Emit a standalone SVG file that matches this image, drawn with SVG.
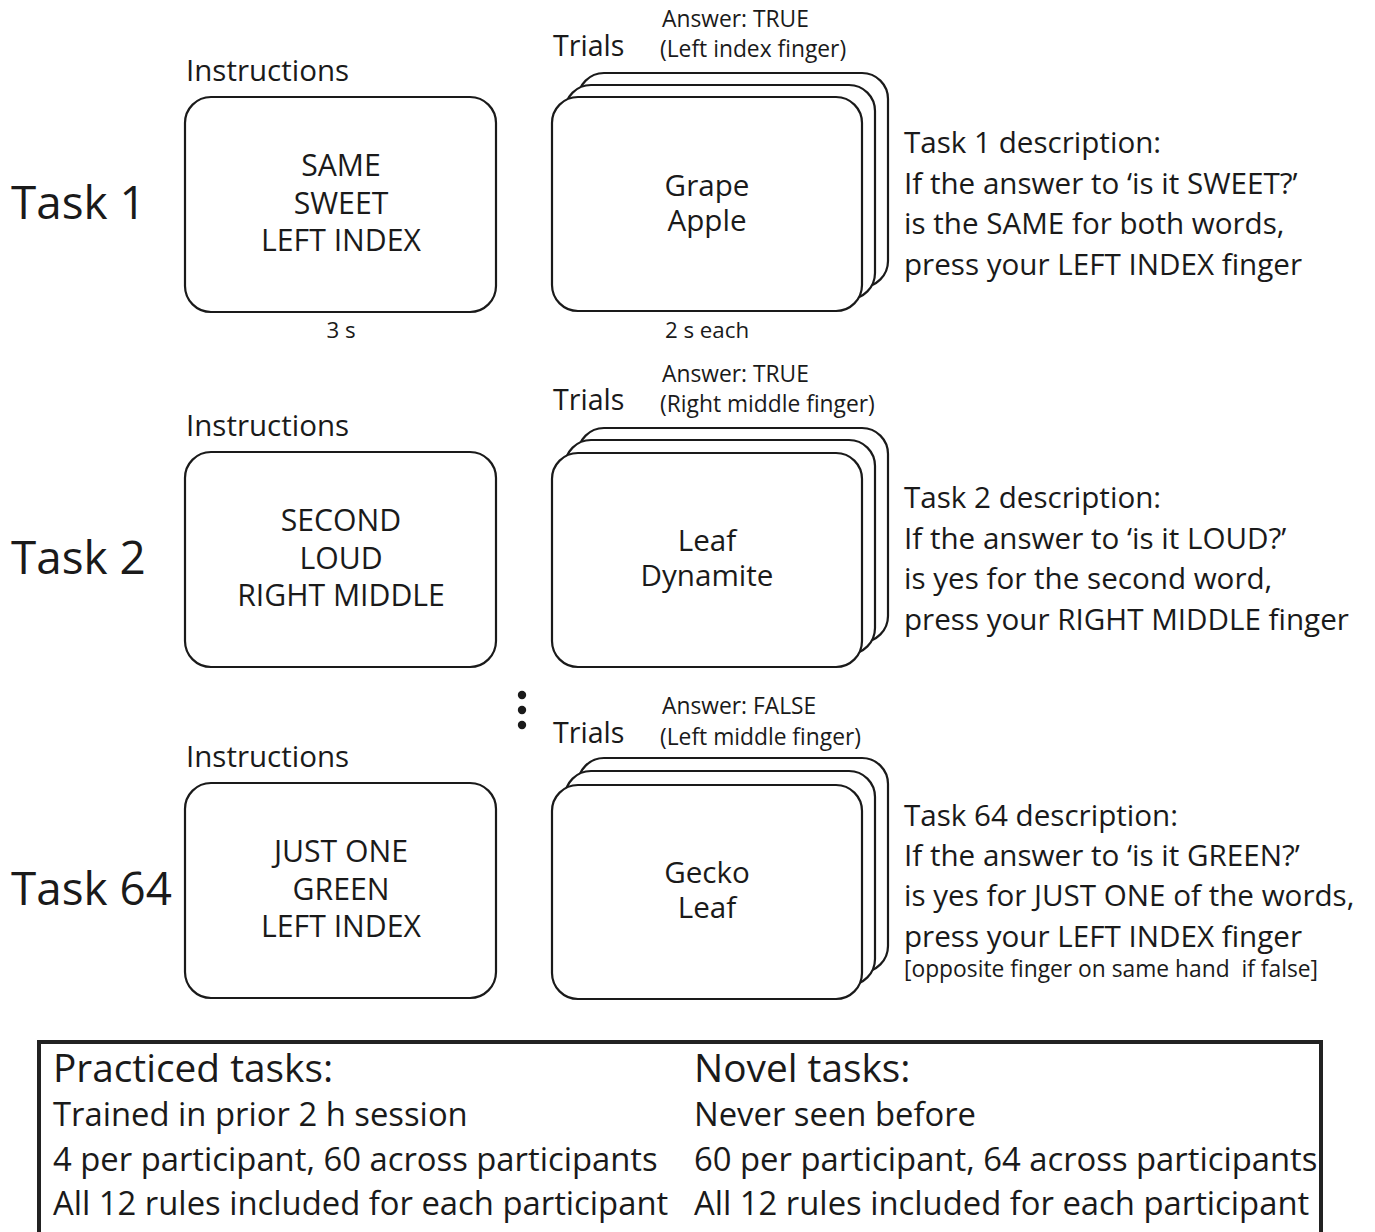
<svg xmlns="http://www.w3.org/2000/svg" width="1375" height="1232" viewBox="0 0 1375 1232">
<style>
text{font-family:"Open Sans","Noto Sans","Liberation Sans",sans-serif;fill:#1a1a1a}
.task{font-size:45.8px}
.lbl{font-size:29.5px}
.trl{font-size:28.6px}
.ans{font-size:22.8px}
.desc{font-size:29.6px}
.box{font-size:30.2px;text-anchor:middle}
.word{font-size:29.6px;text-anchor:middle}
.dur{font-size:22.3px;text-anchor:middle}
.note{font-size:22.8px}
.card{fill:#fff;stroke:#1a1a1a;stroke-width:2.2}
.h{font-size:38.8px}
.b{font-size:32.8px}
</style>
<rect width="1375" height="1232" fill="#fff"/>
<defs>
<rect id="c" width="310" height="214" rx="26" ry="26" class="card"/>
</defs>

<g id="task1">
<text class="task" x="11" y="219">Task 1</text>
<g id="instr1">
<text class="lbl" x="186" y="81">Instructions</text>
<rect x="185" y="97" width="311" height="215" rx="26" class="card"/>
<text class="box" x="341" y="176">SAME</text>
<text class="box" x="341" y="214">SWEET</text>
<text class="box" x="341" y="251">LEFT INDEX</text>
<text class="dur" x="341" y="338">3 s</text>
</g>
<g id="trials1">
<text class="trl" x="553" y="56">Trials</text>
<text class="ans" x="662" y="27">Answer: TRUE</text>
<text class="ans" x="660" y="57">(Left index finger)</text>
<use href="#c" x="578" y="73"/>
<use href="#c" x="565" y="85"/>
<use href="#c" x="552" y="97"/>
<text class="word" x="707" y="196">Grape</text>
<text class="word" x="707" y="231">Apple</text>
<text class="dur" x="707" y="338">2 s each</text>
</g>
<g id="desc1">
<text class="desc" x="904" y="153">Task 1 description:</text>
<text class="desc" x="904" y="194">If the answer to ‘is it SWEET?’</text>
<text class="desc" x="904" y="234">is the SAME for both words,</text>
<text class="desc" x="904" y="275">press your LEFT INDEX finger</text>
</g>
</g>

<g id="task2">
<text class="task" x="11" y="574">Task 2</text>
<g id="instr2">
<text class="lbl" x="186" y="436">Instructions</text>
<rect x="185" y="452" width="311" height="215" rx="26" class="card"/>
<text class="box" x="341" y="531">SECOND</text>
<text class="box" x="341" y="569">LOUD</text>
<text class="box" x="341" y="606">RIGHT MIDDLE</text>
</g>
<g id="trials2">
<text class="trl" x="553" y="410">Trials</text>
<text class="ans" x="662" y="382">Answer: TRUE</text>
<text class="ans" x="660" y="412">(Right middle finger)</text>
<use href="#c" x="578" y="428"/>
<use href="#c" x="565" y="440"/>
<use href="#c" x="552" y="453"/>
<text class="word" x="707" y="551">Leaf</text>
<text class="word" x="707" y="586">Dynamite</text>
</g>
<g id="desc2">
<text class="desc" x="904" y="508">Task 2 description:</text>
<text class="desc" x="904" y="549">If the answer to ‘is it LOUD?’</text>
<text class="desc" x="904" y="589">is yes for the second word,</text>
<text class="desc" x="904" y="630">press your RIGHT MIDDLE finger</text>
</g>
</g>

<g id="ellipsis">
<circle cx="522" cy="695" r="4.2" fill="#1a1a1a"/>
<circle cx="522" cy="710" r="4.2" fill="#1a1a1a"/>
<circle cx="522" cy="725" r="4.2" fill="#1a1a1a"/>
</g>

<g id="task64">
<text class="task" x="11" y="905">Task 64</text>
<g id="instr64">
<text class="lbl" x="186" y="767">Instructions</text>
<rect x="185" y="783" width="311" height="215" rx="26" class="card"/>
<text class="box" x="341" y="862">JUST ONE</text>
<text class="box" x="341" y="900">GREEN</text>
<text class="box" x="341" y="937">LEFT INDEX</text>
</g>
<g id="trials64">
<text class="trl" x="553" y="743">Trials</text>
<text class="ans" x="662" y="714">Answer: FALSE</text>
<text class="ans" x="660" y="745">(Left middle finger)</text>
<use href="#c" x="578" y="758"/>
<use href="#c" x="565" y="771"/>
<use href="#c" x="552" y="785"/>
<text class="word" x="707" y="883">Gecko</text>
<text class="word" x="707" y="918">Leaf</text>
</g>
<g id="desc64">
<text class="desc" x="904" y="826">Task 64 description:</text>
<text class="desc" x="904" y="866">If the answer to ‘is it GREEN?’</text>
<text class="desc" x="904" y="906">is yes for JUST ONE of the words,</text>
<text class="desc" x="904" y="947">press your LEFT INDEX finger</text>
<text class="note" x="904" y="977" xml:space="preserve">[opposite finger on same hand  if false]</text>
</g>
</g>

<g id="summary">
<rect x="39" y="1042" width="1282" height="200" fill="none" stroke="#222" stroke-width="4"/>
<text class="h" x="53" y="1082">Practiced tasks:</text>
<text class="b" x="53" y="1126">Trained in prior 2 h session</text>
<text class="b" x="53" y="1171">4 per participant, 60 across participants</text>
<text class="b" x="53" y="1215">All 12 rules included for each participant</text>
<text class="h" x="694" y="1082">Novel tasks:</text>
<text class="b" x="694" y="1126">Never seen before</text>
<text class="b" x="694" y="1171">60 per participant, 64 across participants</text>
<text class="b" x="694" y="1215">All 12 rules included for each participant</text>
</g>
</svg>
